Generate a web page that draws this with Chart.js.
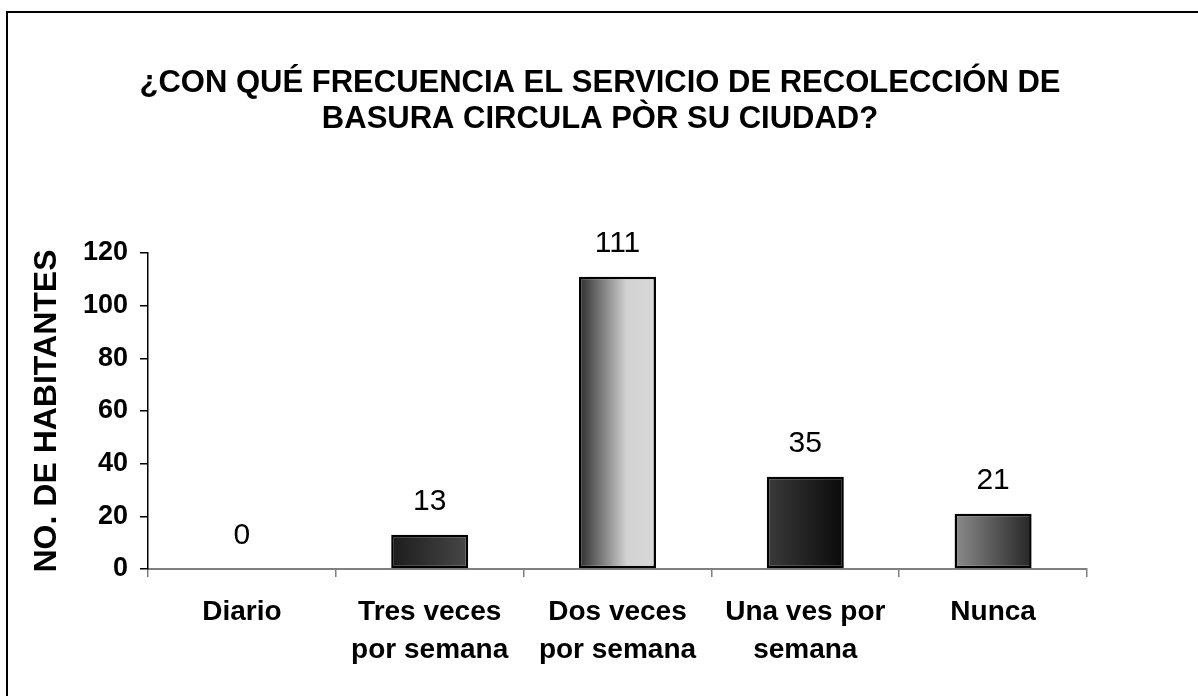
<!DOCTYPE html>
<html>
<head>
<meta charset="utf-8">
<title>Frecuencia del servicio de recolección de basura</title>
<script src="https://cdn.jsdelivr.net/npm/chart.js@4.4.1/dist/chart.umd.min.js"></script>
<style>
  html, body { margin: 0; padding: 0; background: #ffffff; overflow: hidden; }
  #wrap { position: relative; width: 1198px; height: 696px; }
  #frame {
    position: absolute; left: 6px; top: 11px; width: 1300px; height: 800px;
    border-top: 2px solid #000000; border-left: 2px solid #000000;
  }
  canvas { position: absolute; left: 0; top: 0; }
</style>
</head>
<body>
<div id="wrap">
  <div id="frame"></div>
  <canvas id="basuraChart" width="1198" height="696"></canvas>
</div>
<script>
/* ---------- datos ---------- */
var CATEGORIAS = ["Diario", "Tres veces por semana", "Dos veces por semana", "Una ves por semana", "Nunca"];
var ETIQUETAS_X = [["Diario"], ["Tres veces", "por semana"], ["Dos veces", "por semana"], ["Una ves por", "semana"], ["Nunca"]];
var HABITANTES = [0, 13, 111, 35, 21];
var TICKS_Y = [0, 20, 40, 60, 80, 100, 120];
var TITULO = ["¿CON QUÉ FRECUENCIA EL SERVICIO DE RECOLECCIÓN DE", "BASURA CIRCULA PÒR SU CIUDAD?"];
var TITULO_Y = "NO. DE HABITANTES";

/* degradados de cada barra, de izquierda a derecha */
var DEGRADADOS = [
  [[0, "#333333"], [1, "#333333"]],
  [[0, "#1c1c1c"], [1, "#474747"]],
  [[0, "#2e2e2e"], [0.3, "#7c7c7c"], [0.62, "#d2d2d2"], [1, "#d8d8d8"]],
  [[0, "#3a3a3a"], [1, "#0a0a0a"]],
  [[0, "#8c8c8c"], [1, "#262626"]]
];

var FUENTE = '"Liberation Sans", Arial, sans-serif';
var ANCHO_BARRA = 0.41;

(function () {
  /* ---------- relleno degradado (por barra) ---------- */
  function rellenoBarra(c) {
    var chart = c.chart;
    var i = c.dataIndex;
    var escala = chart.scales.x;
    if (!chart.chartArea || !escala || i === undefined) return "#333333";
    var centro = escala.getPixelForValue(i);
    var mitad = (escala.width / CATEGORIAS.length) * ANCHO_BARRA / 2;
    var g = chart.ctx.createLinearGradient(centro - mitad, 0, centro + mitad, 0);
    DEGRADADOS[i].forEach(function (s) { g.addColorStop(s[0], s[1]); });
    return g;
  }

  /* ---------- valores sobre las barras ---------- */
  var valoresPlugin = {
    id: "valores",
    afterDatasetsDraw: function (chart) {
      var ctx = chart.ctx;
      var meta = chart.getDatasetMeta(0);
      ctx.save();
      ctx.font = "30px " + FUENTE;
      ctx.fillStyle = "#000000";
      ctx.textAlign = "center";
      ctx.textBaseline = "middle";
      meta.data.forEach(function (bar, i) {
        var p = bar.getProps(["x", "y"], true);
        ctx.fillText(String(HABITANTES[i]), p.x, p.y - 33);
      });
      ctx.restore();
    }
  };

  /* ---------- título centrado en el lienzo ---------- */
  var tituloPlugin = {
    id: "tituloCentrado",
    afterDraw: function (chart) {
      var ctx = chart.ctx;
      ctx.save();
      ctx.font = "bold 31px " + FUENTE;
      ctx.fillStyle = "#000000";
      ctx.textAlign = "center";
      ctx.textBaseline = "middle";
      TITULO.forEach(function (linea, i) {
        ctx.fillText(linea, chart.width / 2 + 1, 83 + i * 36);
      });
      ctx.restore();
    }
  };

  var ctx = document.getElementById("basuraChart").getContext("2d");
  new Chart(ctx, {
    type: "bar",
    data: {
      labels: CATEGORIAS,
      datasets: [{
        label: "Habitantes",
        data: HABITANTES,
        backgroundColor: rellenoBarra,
        borderColor: "#000000",
        borderWidth: 2.5,
        borderSkipped: false,
        categoryPercentage: 1,
        barPercentage: ANCHO_BARRA
      }]
    },
    options: {
      responsive: false,
      animation: false,
      layout: { padding: { top: 253, left: 0, right: 111, bottom: 0 } },
      plugins: {
        legend: { display: false },
        tooltip: { enabled: false },
        title: { display: false }
      },
      scales: {
        x: {
          grid: {
            display: true,
            drawOnChartArea: false,
            drawTicks: true,
            tickLength: 8,
            color: "#808080",
            lineWidth: 1.5
          },
          border: { display: true, color: "#808080", width: 2 },
          ticks: {
            color: "#000000",
            padding: 17,
            font: { family: FUENTE, size: 28, weight: "bold", lineHeight: 1.33 },
            callback: function (v, i) { return ETIQUETAS_X[i]; }
          },
          afterFit: function (scale) { scale.height = 127; }
        },
        y: {
          min: 0,
          max: 120,
          afterBuildTicks: function (scale) {
            scale.ticks = TICKS_Y.map(function (v) { return { value: v }; });
          },
          grid: {
            display: true,
            drawOnChartArea: false,
            drawTicks: true,
            tickLength: 8,
            color: "#000000",
            lineWidth: 1.5
          },
          border: { display: true, color: "#000000", width: 1.5 },
          ticks: {
            color: "#000000",
            padding: 12,
            font: { family: FUENTE, size: 27, weight: "bold" }
          },
          title: {
            display: true,
            text: TITULO_Y,
            color: "#000000",
            padding: { top: 28, bottom: 0 },
            font: { family: FUENTE, size: 32, weight: "bold", lineHeight: 1.2 }
          },
          afterFit: function (scale) { scale.width = 148; }
        }
      }
    },
    plugins: [valoresPlugin, tituloPlugin]
  });
})();
</script>
</body>
</html>
